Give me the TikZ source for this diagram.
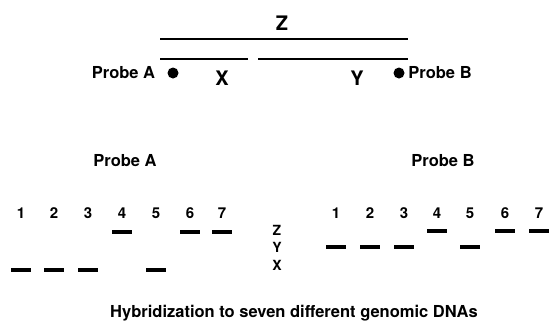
\documentclass[tikz,border=0pt]{standalone}
\usepackage{fontspec}
\setmainfont{TeX Gyre Heros}
\usetikzlibrary{positioning}
\begin{document}
\begin{tikzpicture}[x=1pt,y=-1pt,
lbl/.style={font=\bfseries\fontsize{16.5}{19}\selectfont,inner sep=0pt},
seg/.style={font=\bfseries\fontsize{20}{24}\selectfont,inner sep=0pt,anchor=base},
lane/.style={font=\bfseries\fontsize{15}{18}\selectfont,inner sep=0pt,anchor=base},
strand/.style={line width=2pt},
band/.style={fill=black,inner sep=0pt,minimum width=20pt,minimum height=4pt},
probe/.style={circle,fill=black,inner sep=0pt,minimum size=11pt}]
\useasboundingbox(0,0)rectangle(549,322);
\coordinate(zL)at(160,39);\coordinate(zR)at(408,39);
\coordinate(xL)at(160,59);\coordinate(xR)at(248,59);
\coordinate(yL)at(258,59);\coordinate(yR)at(408,59);
\draw[strand](zL)--(zR)
(xL)--(xR)
(yL)--(yR);
\node[seg](z)at(282,30){Z};
\node[seg](x)at(222,85){X};
\node[seg](y)at(357,85){Y};
\node[probe](dotA)at(173,73){};
\node[probe](dotB)at(399,73){};
\node[lbl,left=12pt of dotA](pA){Probe A};
\node[lbl,right=3.5pt of dotB](pB){Probe B};
\node[lbl,anchor=base](hA)at(125,166){Probe A};
\node[lbl,anchor=base](hB)at(443,166){Probe B};
\foreach \i/\x/\y in {1/21/270,2/54/270,3/88/270,4/122/232,5/156/270,6/190/232,7/222/232}{
\node[lane](la\i)at(\x,218){\i};
\node[band](ba\i)at(la\i |- 0,\y){};}
\foreach \i/\x/\y in {1/336/247,2/370/247,3/404/247,4/437/231,5/470/247,6/505/231,7/539/231}{
\node[lane](lb\i)at(\x,218){\i};
\node[band](bb\i)at(lb\i |- 0,\y){};}
\node[lane,font=\bfseries\fontsize{14}{16}\selectfont](mz)at(277,235){Z};
\node[lane,font=\bfseries\fontsize{14}{16}\selectfont](my)at(277,252){Y};
\node[lane,font=\bfseries\fontsize{14}{16}\selectfont](mx)at(277,270){X};
\node[lbl,anchor=base](cap)at(294,317){Hybridization to seven different genomic DNAs};
\end{tikzpicture}
\end{document}
